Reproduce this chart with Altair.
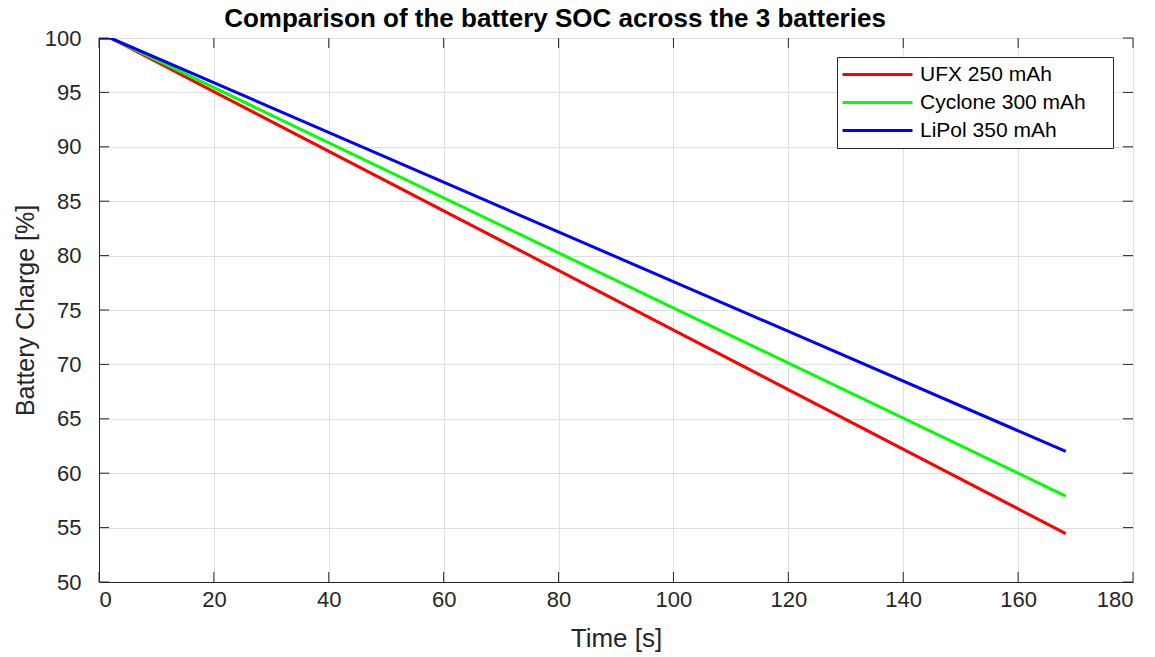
import altair as alt
import pandas as pd

# Battery state-of-charge traces (time in s, charge in %)
batteries = ["UFX 250 mAh", "Cyclone 300 mAh", "LiPol 350 mAh"]
colors = ["#FF0000", "#00FF00", "#0000FF"]
time_s = [0.0, 2.0, 168.3]
soc_ufx = [100.0, 100.0, 54.45]
soc_cyclone = [100.0, 100.0, 57.9]
soc_lipol = [100.0, 100.0, 62.0]

x_ticks = [0, 20, 40, 60, 80, 100, 120, 140, 160, 180]
y_ticks = [50, 55, 60, 65, 70, 75, 80, 85, 90, 95, 100]

rows = []
for name, series in zip(batteries, [soc_ufx, soc_cyclone, soc_lipol]):
    for t, v in zip(time_s, series):
        rows.append({"battery": name, "time": t, "soc": v})
df = pd.DataFrame(rows)

W, H = 1034, 544
FONT = "Liberation Sans"
INK = "#262626"
NBSP = "\u00a0"

x_scale = alt.Scale(domain=[0, 180], nice=False)
y_scale = alt.Scale(domain=[50, 100], nice=False)

lines = alt.Chart(df).mark_line(strokeWidth=3, clip=True).encode(
    x=alt.X("time:Q", scale=x_scale, title="Time [s]",
            axis=alt.Axis(values=x_ticks, tickSize=0, labelPadding=7,
                          titlePadding=15, titleFontSize=26, format="d")),
    y=alt.Y("soc:Q", scale=y_scale, title="Battery Charge [%]",
            axis=alt.Axis(values=y_ticks, tickSize=0, labelPadding=18,
                          titlePadding=6, titleFontSize=25, format="d")),
    color=alt.Color("battery:N", sort=batteries,
                    scale=alt.Scale(domain=batteries, range=colors),
                    # long horizontal line swatch drawn from a small nominal symbol;
                    # a blank right-hand title leaves room inside the frame
                    legend=alt.Legend(title=NBSP, titleOrient="right",
                                      titleFontSize=1, titlePadding=20,
                                      orient="none",
                                      legendX=738, legendY=19,
                                      symbolType="M-2.4,0H11.6", symbolSize=100,
                                      symbolStrokeWidth=3, labelFontSize=21,
                                      labelFont=FONT, labelColor="#000000",
                                      rowPadding=6, padding=7,
                                      strokeColor=INK, fillColor="#FFFFFF",
                                      labelLimit=400, labelOffset=55)),
)

# inward-pointing tick marks on all four sides
xt = pd.DataFrame({"v": x_ticks})
yt = pd.DataFrame({"v": y_ticks})
tick_style = dict(color=INK, strokeWidth=1)
x_bottom = alt.Chart(xt).mark_rule(**tick_style).encode(
    x=alt.X("v:Q", scale=x_scale), y=alt.value(H), y2=alt.value(H - 10))
x_top = alt.Chart(xt).mark_rule(**tick_style).encode(
    x=alt.X("v:Q", scale=x_scale), y=alt.value(0), y2=alt.value(10))
y_left = alt.Chart(yt).mark_rule(**tick_style).encode(
    y=alt.Y("v:Q", scale=y_scale), x=alt.value(0), x2=alt.value(10))
y_right = alt.Chart(yt).mark_rule(**tick_style).encode(
    y=alt.Y("v:Q", scale=y_scale), x=alt.value(W), x2=alt.value(W - 10))

chart = alt.layer(lines, x_bottom, x_top, y_left, y_right).properties(
    width=W, height=H,
    autosize=alt.AutoSizeParams(type="none"),
    padding={"left": 99, "top": 38, "right": 22, "bottom": 75},
    title=alt.TitleParams("Comparison of the battery SOC across the 3 batteries",
                          font=FONT, fontSize=26, fontWeight="bold",
                          color="#000000", anchor="middle", offset=4,
                          dy=9, dx=-61),
).configure_view(
    stroke=INK, strokeWidth=1
).configure_axis(
    grid=True, gridColor="#DFDFDF", gridWidth=1,
    domainColor=INK, labelFont=FONT, labelFontSize=22, labelColor=INK,
    titleFont=FONT, titleColor=INK, titleFontWeight="normal",
)

chart.save("out.html", embed_options={"renderer": "svg", "actions": False})
